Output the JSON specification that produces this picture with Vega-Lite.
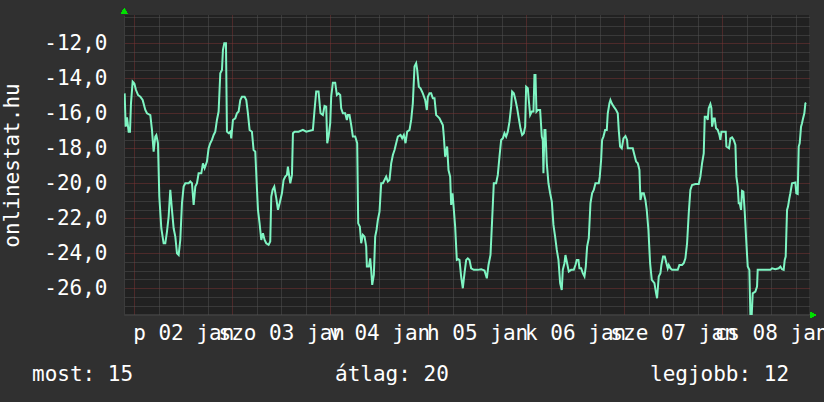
{
  "$schema": "https://vega.github.io/schema/vega-lite/v6.json",
  "width": 685,
  "height": 300,
  "autosize": {"type": "none"},
  "padding": {"left": 124, "top": 15, "right": 15, "bottom": 87},
  "background": "#303030",
  "config": {"view": {"fill": "#212121", "stroke": null}, "font": "DejaVu Sans Mono"},
  "resolve": {"axis": {"x": "independent", "y": "independent"}},
  "data": {"values": [
    {"ora": -2.36, "ertek": -14.86}, {"ora": -2.11, "ertek": -16.76}, {"ora": -1.79, "ertek": -16.23}, {"ora": -1.38, "ertek": -17.05}, {"ora": -1.05, "ertek": -17.05}, {"ora": -0.81, "ertek": -15.43}, {"ora": -0.40, "ertek": -14.19}, {"ora": 0.01, "ertek": -14.29}, {"ora": 0.42, "ertek": -14.67}, {"ora": 0.91, "ertek": -14.95}, {"ora": 1.48, "ertek": -15.05}, {"ora": 2.05, "ertek": -15.24}, {"ora": 2.70, "ertek": -15.81}, {"ora": 3.11, "ertek": -16.0}, {"ora": 3.93, "ertek": -16.10}, {"ora": 4.33, "ertek": -16.95}, {"ora": 4.74, "ertek": -18.19}, {"ora": 5.15, "ertek": -17.33}, {"ora": 5.40, "ertek": -17.24}, {"ora": 5.80, "ertek": -17.71}, {"ora": 6.13, "ertek": -20.76}, {"ora": 6.62, "ertek": -22.57}, {"ora": 7.19, "ertek": -23.43}, {"ora": 7.60, "ertek": -23.43}, {"ora": 8.01, "ertek": -22.76}, {"ora": 8.42, "ertek": -21.90}, {"ora": 8.82, "ertek": -20.38}, {"ora": 9.23, "ertek": -21.52}, {"ora": 9.64, "ertek": -22.57}, {"ora": 10.05, "ertek": -23.05}, {"ora": 10.46, "ertek": -24.0}, {"ora": 10.87, "ertek": -24.10}, {"ora": 11.27, "ertek": -23.24}, {"ora": 11.68, "ertek": -21.14}, {"ora": 12.09, "ertek": -20.19}, {"ora": 12.50, "ertek": -20.0}, {"ora": 13.31, "ertek": -20.0}, {"ora": 13.72, "ertek": -19.90}, {"ora": 14.13, "ertek": -20.0}, {"ora": 14.54, "ertek": -21.24}, {"ora": 14.95, "ertek": -20.19}, {"ora": 15.36, "ertek": -20.0}, {"ora": 15.76, "ertek": -19.43}, {"ora": 16.42, "ertek": -19.43}, {"ora": 16.82, "ertek": -18.86}, {"ora": 17.23, "ertek": -19.14}, {"ora": 17.80, "ertek": -18.76}, {"ora": 18.21, "ertek": -18.0}, {"ora": 18.62, "ertek": -17.71}, {"ora": 19.03, "ertek": -17.52}, {"ora": 19.44, "ertek": -17.24}, {"ora": 19.84, "ertek": -17.05}, {"ora": 20.25, "ertek": -16.38}, {"ora": 20.66, "ertek": -15.90}, {"ora": 21.07, "ertek": -13.71}, {"ora": 21.48, "ertek": -13.52}, {"ora": 21.72, "ertek": -12.38}, {"ora": 22.05, "ertek": -12.0}, {"ora": 22.46, "ertek": -12.0}, {"ora": 22.70, "ertek": -17.05}, {"ora": 23.11, "ertek": -17.14}, {"ora": 23.52, "ertek": -17.05}, {"ora": 23.76, "ertek": -17.43}, {"ora": 24.17, "ertek": -16.38}, {"ora": 24.74, "ertek": -16.29}, {"ora": 25.15, "ertek": -16.0}, {"ora": 25.56, "ertek": -15.90}, {"ora": 25.97, "ertek": -15.24}, {"ora": 26.38, "ertek": -15.05}, {"ora": 27.03, "ertek": -15.05}, {"ora": 27.44, "ertek": -15.24}, {"ora": 27.84, "ertek": -16.0}, {"ora": 28.25, "ertek": -16.95}, {"ora": 28.82, "ertek": -17.05}, {"ora": 29.23, "ertek": -18.10}, {"ora": 29.64, "ertek": -18.19}, {"ora": 29.97, "ertek": -19.90}, {"ora": 30.30, "ertek": -21.52}, {"ora": 30.70, "ertek": -22.29}, {"ora": 31.11, "ertek": -23.24}, {"ora": 31.52, "ertek": -22.86}, {"ora": 31.93, "ertek": -23.24}, {"ora": 32.33, "ertek": -23.43}, {"ora": 32.91, "ertek": -23.52}, {"ora": 33.31, "ertek": -23.33}, {"ora": 33.56, "ertek": -20.76}, {"ora": 33.89, "ertek": -20.38}, {"ora": 34.30, "ertek": -20.19}, {"ora": 34.79, "ertek": -20.86}, {"ora": 35.20, "ertek": -21.52}, {"ora": 35.61, "ertek": -21.14}, {"ora": 36.17, "ertek": -20.57}, {"ora": 36.58, "ertek": -19.81}, {"ora": 36.99, "ertek": -19.62}, {"ora": 37.40, "ertek": -19.52}, {"ora": 37.64, "ertek": -19.05}, {"ora": 37.97, "ertek": -19.62}, {"ora": 38.22, "ertek": -20.0}, {"ora": 38.63, "ertek": -19.52}, {"ora": 38.87, "ertek": -17.14}, {"ora": 39.28, "ertek": -17.05}, {"ora": 40.26, "ertek": -17.05},
    {"ora": 41.31, "ertek": -16.95}, {"ora": 42.12, "ertek": -17.05}, {"ora": 43.76, "ertek": -16.95}, {"ora": 44.16, "ertek": -15.81}, {"ora": 44.57, "ertek": -14.76}, {"ora": 45.14, "ertek": -14.76}, {"ora": 45.63, "ertek": -16.0}, {"ora": 46.20, "ertek": -16.10}, {"ora": 46.61, "ertek": -15.58}, {"ora": 47.02, "ertek": -15.62}, {"ora": 47.27, "ertek": -17.71}, {"ora": 47.59, "ertek": -17.33}, {"ora": 48.0, "ertek": -16.57}, {"ora": 48.24, "ertek": -15.05}, {"ora": 48.65, "ertek": -14.25}, {"ora": 49.22, "ertek": -14.25}, {"ora": 49.63, "ertek": -14.95}, {"ora": 50.04, "ertek": -14.86}, {"ora": 50.45, "ertek": -14.95}, {"ora": 50.69, "ertek": -15.71}, {"ora": 51.10, "ertek": -16.0}, {"ora": 51.67, "ertek": -16.0}, {"ora": 52.08, "ertek": -16.38}, {"ora": 52.33, "ertek": -16.10}, {"ora": 52.73, "ertek": -16.10}, {"ora": 53.14, "ertek": -16.67}, {"ora": 53.55, "ertek": -17.33}, {"ora": 54.12, "ertek": -17.33}, {"ora": 54.61, "ertek": -17.71}, {"ora": 54.86, "ertek": -22.29}, {"ora": 55.27, "ertek": -22.48}, {"ora": 55.59, "ertek": -23.43}, {"ora": 56.0, "ertek": -22.95}, {"ora": 56.41, "ertek": -23.05}, {"ora": 56.82, "ertek": -23.62}, {"ora": 56.98, "ertek": -24.76}, {"ora": 57.47, "ertek": -24.76}, {"ora": 57.80, "ertek": -24.29}, {"ora": 58.04, "ertek": -24.95}, {"ora": 58.29, "ertek": -25.81}, {"ora": 58.69, "ertek": -25.24}, {"ora": 59.02, "ertek": -23.05}, {"ora": 59.35, "ertek": -22.67}, {"ora": 59.67, "ertek": -22.10}, {"ora": 60.08, "ertek": -21.62}, {"ora": 60.49, "ertek": -20.0}, {"ora": 60.90, "ertek": -20.0}, {"ora": 61.31, "ertek": -19.81}, {"ora": 61.71, "ertek": -19.62}, {"ora": 62.12, "ertek": -19.90}, {"ora": 62.53, "ertek": -19.81}, {"ora": 62.94, "ertek": -18.86}, {"ora": 63.35, "ertek": -18.38}, {"ora": 63.76, "ertek": -18.10}, {"ora": 64.16, "ertek": -17.71}, {"ora": 64.57, "ertek": -17.33}, {"ora": 65.22, "ertek": -17.24}, {"ora": 65.63, "ertek": -17.43}, {"ora": 66.04, "ertek": -17.24}, {"ora": 66.45, "ertek": -17.71}, {"ora": 66.86, "ertek": -17.05}, {"ora": 67.43, "ertek": -16.95}, {"ora": 67.84, "ertek": -16.38}, {"ora": 68.24, "ertek": -15.43}, {"ora": 68.65, "ertek": -13.33}, {"ora": 69.06, "ertek": -13.14}, {"ora": 69.31, "ertek": -13.52}, {"ora": 69.71, "ertek": -14.48}, {"ora": 70.12, "ertek": -14.57}, {"ora": 70.69, "ertek": -14.86}, {"ora": 71.27, "ertek": -15.24}, {"ora": 71.67, "ertek": -15.81}, {"ora": 71.92, "ertek": -15.05}, {"ora": 72.33, "ertek": -14.86}, {"ora": 72.73, "ertek": -14.86}, {"ora": 73.14, "ertek": -15.14}, {"ora": 73.55, "ertek": -15.14}, {"ora": 73.96, "ertek": -16.10}, {"ora": 74.37, "ertek": -16.19}, {"ora": 74.78, "ertek": -16.29}, {"ora": 75.18, "ertek": -16.48}, {"ora": 75.59, "ertek": -16.67}, {"ora": 75.84, "ertek": -17.33}, {"ora": 76.16, "ertek": -18.48}, {"ora": 76.65, "ertek": -17.90}, {"ora": 76.98, "ertek": -19.24}, {"ora": 77.39, "ertek": -19.62}, {"ora": 77.63, "ertek": -21.24}, {"ora": 77.96, "ertek": -20.57}, {"ora": 78.20, "ertek": -21.24}, {"ora": 78.61, "ertek": -22.48}, {"ora": 79.02, "ertek": -24.38}, {"ora": 79.35, "ertek": -24.34}, {"ora": 79.67, "ertek": -24.38}, {"ora": 80.08, "ertek": -25.33}, {"ora": 80.49, "ertek": -26.0}, {"ora": 80.90, "ertek": -25.14}, {"ora": 81.31, "ertek": -24.38}, {"ora": 81.71, "ertek": -24.29}, {"ora": 82.12, "ertek": -24.38}, {"ora": 82.53, "ertek": -24.86}, {"ora": 83.18, "ertek": -24.95},
    {"ora": 84.16, "ertek": -24.95}, {"ora": 84.98, "ertek": -24.91}, {"ora": 85.80, "ertek": -24.99}, {"ora": 86.37, "ertek": -25.43}, {"ora": 86.78, "ertek": -24.67}, {"ora": 87.27, "ertek": -24.10}, {"ora": 87.67, "ertek": -22.10}, {"ora": 88.08, "ertek": -20.0}, {"ora": 88.65, "ertek": -20.0}, {"ora": 89.06, "ertek": -19.52}, {"ora": 89.47, "ertek": -18.48}, {"ora": 89.88, "ertek": -17.52}, {"ora": 90.29, "ertek": -17.43}, {"ora": 90.69, "ertek": -17.14}, {"ora": 91.10, "ertek": -17.33}, {"ora": 91.51, "ertek": -17.05}, {"ora": 91.92, "ertek": -16.48}, {"ora": 92.33, "ertek": -15.62}, {"ora": 92.57, "ertek": -14.76}, {"ora": 92.98, "ertek": -14.86}, {"ora": 93.39, "ertek": -15.24}, {"ora": 93.80, "ertek": -15.71}, {"ora": 94.20, "ertek": -16.29}, {"ora": 94.61, "ertek": -16.86}, {"ora": 95.02, "ertek": -17.24}, {"ora": 95.43, "ertek": -17.14}, {"ora": 95.76, "ertek": -16.76}, {"ora": 96.0, "ertek": -14.48}, {"ora": 96.41, "ertek": -14.57}, {"ora": 96.65, "ertek": -15.24}, {"ora": 96.98, "ertek": -16.10}, {"ora": 97.39, "ertek": -15.90}, {"ora": 97.80, "ertek": -15.90}, {"ora": 98.04, "ertek": -13.81}, {"ora": 98.29, "ertek": -13.81}, {"ora": 98.53, "ertek": -15.90}, {"ora": 98.86, "ertek": -15.81}, {"ora": 99.43, "ertek": -15.81}, {"ora": 99.84, "ertek": -17.33}, {"ora": 100.08, "ertek": -17.52}, {"ora": 100.24, "ertek": -19.43}, {"ora": 100.49, "ertek": -16.95}, {"ora": 100.73, "ertek": -16.95}, {"ora": 101.06, "ertek": -18.86}, {"ora": 101.47, "ertek": -20.0}, {"ora": 101.88, "ertek": -20.57}, {"ora": 102.29, "ertek": -21.05}, {"ora": 102.69, "ertek": -22.38}, {"ora": 103.10, "ertek": -23.05}, {"ora": 103.51, "ertek": -23.81}, {"ora": 103.92, "ertek": -24.38}, {"ora": 104.33, "ertek": -25.71}, {"ora": 104.73, "ertek": -26.10}, {"ora": 104.98, "ertek": -24.95}, {"ora": 105.39, "ertek": -24.57}, {"ora": 105.63, "ertek": -24.10}, {"ora": 106.04, "ertek": -24.57}, {"ora": 106.45, "ertek": -25.05}, {"ora": 107.02, "ertek": -24.95}, {"ora": 107.67, "ertek": -24.95}, {"ora": 108.08, "ertek": -24.67}, {"ora": 108.41, "ertek": -24.38}, {"ora": 108.82, "ertek": -24.38}, {"ora": 109.06, "ertek": -24.86}, {"ora": 109.47, "ertek": -24.86}, {"ora": 109.88, "ertek": -25.14}, {"ora": 110.29, "ertek": -25.33}, {"ora": 110.61, "ertek": -24.76}, {"ora": 110.94, "ertek": -23.62}, {"ora": 111.35, "ertek": -23.14}, {"ora": 111.76, "ertek": -21.14}, {"ora": 112.16, "ertek": -20.57}, {"ora": 112.57, "ertek": -20.38}, {"ora": 112.98, "ertek": -20.0}, {"ora": 113.80, "ertek": -20.0}, {"ora": 114.04, "ertek": -19.62}, {"ora": 114.37, "ertek": -18.67}, {"ora": 114.61, "ertek": -17.52}, {"ora": 114.94, "ertek": -17.33}, {"ora": 115.35, "ertek": -16.95}, {"ora": 115.76, "ertek": -16.95}, {"ora": 116.0, "ertek": -16.0}, {"ora": 116.41, "ertek": -15.43}, {"ora": 116.65, "ertek": -15.24}, {"ora": 117.06, "ertek": -15.47}, {"ora": 117.47, "ertek": -15.62}, {"ora": 118.04, "ertek": -15.81}, {"ora": 118.45, "ertek": -16.0}, {"ora": 118.69, "ertek": -16.95}, {"ora": 119.02, "ertek": -17.90}, {"ora": 119.43, "ertek": -18.0}, {"ora": 119.84, "ertek": -17.43}, {"ora": 120.33, "ertek": -17.30}, {"ora": 120.73, "ertek": -17.52}, {"ora": 120.90, "ertek": -18.0}, {"ora": 122.12, "ertek": -18.0}, {"ora": 122.53, "ertek": -18.38}, {"ora": 122.94, "ertek": -18.76}, {"ora": 123.35, "ertek": -18.86}, {"ora": 123.76, "ertek": -19.24}, {"ora": 124.0, "ertek": -20.95}, {"ora": 124.41, "ertek": -20.57}, {"ora": 124.82, "ertek": -20.57}, {"ora": 125.22, "ertek": -20.95}, {"ora": 125.55, "ertek": -21.52}, {"ora": 125.96, "ertek": -22.67}, {"ora": 126.37, "ertek": -24.57}, {"ora": 126.78, "ertek": -25.52},
    {"ora": 127.43, "ertek": -25.71}, {"ora": 127.84, "ertek": -26.29}, {"ora": 128.08, "ertek": -26.57}, {"ora": 128.49, "ertek": -25.33}, {"ora": 128.90, "ertek": -25.14}, {"ora": 129.14, "ertek": -24.67}, {"ora": 129.55, "ertek": -24.19}, {"ora": 129.96, "ertek": -24.19}, {"ora": 130.37, "ertek": -24.57}, {"ora": 130.69, "ertek": -24.86}, {"ora": 130.94, "ertek": -24.67}, {"ora": 131.35, "ertek": -24.86}, {"ora": 131.76, "ertek": -24.95}, {"ora": 133.14, "ertek": -24.95}, {"ora": 133.55, "ertek": -24.67}, {"ora": 134.20, "ertek": -24.67}, {"ora": 134.61, "ertek": -24.57}, {"ora": 135.02, "ertek": -24.29}, {"ora": 135.43, "ertek": -23.43}, {"ora": 135.84, "ertek": -21.71}, {"ora": 136.24, "ertek": -20.38}, {"ora": 136.65, "ertek": -20.10}, {"ora": 137.47, "ertek": -20.04}, {"ora": 138.29, "ertek": -20.04}, {"ora": 138.69, "ertek": -19.62}, {"ora": 139.10, "ertek": -18.86}, {"ora": 139.51, "ertek": -18.29}, {"ora": 139.76, "ertek": -16.19}, {"ora": 140.16, "ertek": -16.19}, {"ora": 140.49, "ertek": -16.38}, {"ora": 140.73, "ertek": -15.71}, {"ora": 141.14, "ertek": -15.47}, {"ora": 141.39, "ertek": -15.71}, {"ora": 141.55, "ertek": -16.76}, {"ora": 141.96, "ertek": -16.29}, {"ora": 142.20, "ertek": -16.29}, {"ora": 142.53, "ertek": -16.86}, {"ora": 142.94, "ertek": -16.95}, {"ora": 143.35, "ertek": -17.24}, {"ora": 143.59, "ertek": -17.52}, {"ora": 143.84, "ertek": -17.05}, {"ora": 144.90, "ertek": -17.05}, {"ora": 145.06, "ertek": -17.90}, {"ora": 145.71, "ertek": -18.0}, {"ora": 146.04, "ertek": -17.43}, {"ora": 146.45, "ertek": -17.37}, {"ora": 146.86, "ertek": -17.52}, {"ora": 147.27, "ertek": -17.81}, {"ora": 147.51, "ertek": -19.62}, {"ora": 147.84, "ertek": -20.19}, {"ora": 148.08, "ertek": -21.14}, {"ora": 148.33, "ertek": -21.14}, {"ora": 148.65, "ertek": -21.52}, {"ora": 148.90, "ertek": -20.44}, {"ora": 149.22, "ertek": -20.48}, {"ora": 149.55, "ertek": -21.62}, {"ora": 149.96, "ertek": -23.43}, {"ora": 150.29, "ertek": -24.76}, {"ora": 150.69, "ertek": -24.95}, {"ora": 150.94, "ertek": -27.52}, {"ora": 151.27, "ertek": -27.52}, {"ora": 151.51, "ertek": -26.29}, {"ora": 152.16, "ertek": -26.19}, {"ora": 152.57, "ertek": -25.90}, {"ora": 152.73, "ertek": -24.95}, {"ora": 155.84, "ertek": -24.95}, {"ora": 156.24, "ertek": -24.86}, {"ora": 157.06, "ertek": -24.91}, {"ora": 157.88, "ertek": -24.86}, {"ora": 158.29, "ertek": -24.76}, {"ora": 158.69, "ertek": -24.91}, {"ora": 159.10, "ertek": -24.95}, {"ora": 159.35, "ertek": -24.38}, {"ora": 159.59, "ertek": -24.19}, {"ora": 159.92, "ertek": -21.52}, {"ora": 160.16, "ertek": -21.33}, {"ora": 160.49, "ertek": -20.86}, {"ora": 160.73, "ertek": -20.57}, {"ora": 161.14, "ertek": -20.0}, {"ora": 161.96, "ertek": -19.96}, {"ora": 162.20, "ertek": -20.57}, {"ora": 162.53, "ertek": -20.61}, {"ora": 162.78, "ertek": -17.90}, {"ora": 163.02, "ertek": -17.71}, {"ora": 163.35, "ertek": -16.76}, {"ora": 163.59, "ertek": -16.57}, {"ora": 163.84, "ertek": -16.29}, {"ora": 164.16, "ertek": -16.0}, {"ora": 164.41, "ertek": -15.43}, {"ora": 164.57, "ertek": -15.39}
  ]},
  "layer": [
    {
      "mark": {"type": "point", "shape": "triangle-up", "filled": true, "size": 36, "color": "#00e000", "opacity": 1, "clip": false},
      "encoding": {
        "x": {
          "datum": -2.46, "type": "quantitative",
          "scale": {"domain": [-2.52, 165.3], "nice": false, "zero": false},
          "axis": {
            "orient": "bottom", "title": null,
            "values": [6, 12, 18, 30, 36, 42, 54, 60, 66, 78, 84, 90, 102, 108, 114, 126, 132, 138, 150, 156, 162],
            "grid": true, "gridDash": [1, 1], "gridWidth": 1, "gridColor": "#525252",
            "ticks": false, "domain": false,
            "labelExpr": "datum.value % 24 === 12 ? ['p 02 jan', 'szo 03 jan', 'v 04 jan', 'h 05 jan', 'k 06 jan', 'sze 07 jan', 'cs 08 jan'][(datum.value - 12) / 24] : ''",
            "labelFont": "DejaVu Sans Mono", "labelFontSize": 21, "labelColor": "#ffffff",
            "labelOverlap": false, "labelFlush": false, "labelBound": false,
            "labelBaseline": "alphabetic", "labelPadding": 24, "labelAlign": "center"
          }
        },
        "y": {
          "datum": -10.15, "type": "quantitative",
          "scale": {"domain": [-27.53, -10.38], "nice": false, "zero": false},
          "axis": {
            "orient": "left", "title": null,
            "values": [-27.5, -27, -26.5, -25.5, -25, -24.5, -23.5, -23, -22.5, -21.5, -21, -20.5, -19.5, -19, -18.5, -17.5, -17, -16.5, -15.5, -15, -14.5, -13.5, -13, -12.5, -11.5, -11, -10.5],
            "grid": true, "gridDash": [1, 1], "gridWidth": 1, "gridColor": "#525252",
            "ticks": false, "domain": false, "labels": false
          }
        }
      }
    },
    {
      "mark": {"type": "line", "strokeWidth": 2, "clip": true},
      "encoding": {
        "x": {
          "field": "ora", "type": "quantitative",
          "axis": {
            "orient": "bottom", "title": null,
            "values": [0, 24, 48, 72, 96, 120, 144],
            "grid": true, "gridDash": [1, 1], "gridWidth": 1, "gridColor": "#7a3434",
            "ticks": false, "domain": true, "domainColor": "#3c3c3c", "labels": false
          }
        },
        "y": {
          "field": "ertek", "type": "quantitative",
          "axis": {
            "orient": "left",
            "title": "onlinestat.hu",
            "titleFont": "DejaVu Sans Mono", "titleFontSize": 21, "titleFontWeight": "normal", "titleColor": "#ffffff",
            "titleX": -105.7, "titleY": 150, "titleAngle": -90, "titleBaseline": "alphabetic", "titleAlign": "center",
            "values": [-26, -24, -22, -20, -18, -16, -14, -12],
            "grid": true, "gridDash": [1, 1], "gridWidth": 1, "gridColor": "#7a3434",
            "ticks": false, "domain": true, "domainColor": "#3c3c3c",
            "labelExpr": "'-' + abs(datum.value) + ',0'",
            "labelFont": "DejaVu Sans Mono", "labelFontSize": 21, "labelColor": "#ffffff",
            "labelOverlap": false, "labelFlush": false, "labelBound": false,
            "labelPadding": 17, "labelBaseline": "middle"
          }
        },
        "color": {
          "datum": "most: 15", "type": "nominal",
          "scale": {"domain": ["most: 15", "átlag: 20", "legjobb: 12"], "range": ["#7ff5c3", "#7ff5c3", "#7ff5c3"]},
          "legend": {
            "orient": "none", "legendX": -113, "legendY": 349, "direction": "horizontal",
            "title": null, "padding": 0, "symbolSize": 0, "symbolOpacity": 0, "symbolStrokeWidth": 0,
            "labelFont": "DejaVu Sans Mono", "labelFontSize": 21, "labelColor": "#ffffff",
            "labelOffset": 0, "columnPadding": 180, "labelLimit": 500
          }
        }
      }
    },
    {
      "mark": {"type": "point", "shape": "triangle-right", "filled": true, "size": 36, "color": "#00e000", "opacity": 1, "clip": false},
      "encoding": {
        "x": {"datum": 166.3, "type": "quantitative", "axis": null},
        "y": {"datum": -27.53, "type": "quantitative", "axis": null}
      }
    }
  ]
}
